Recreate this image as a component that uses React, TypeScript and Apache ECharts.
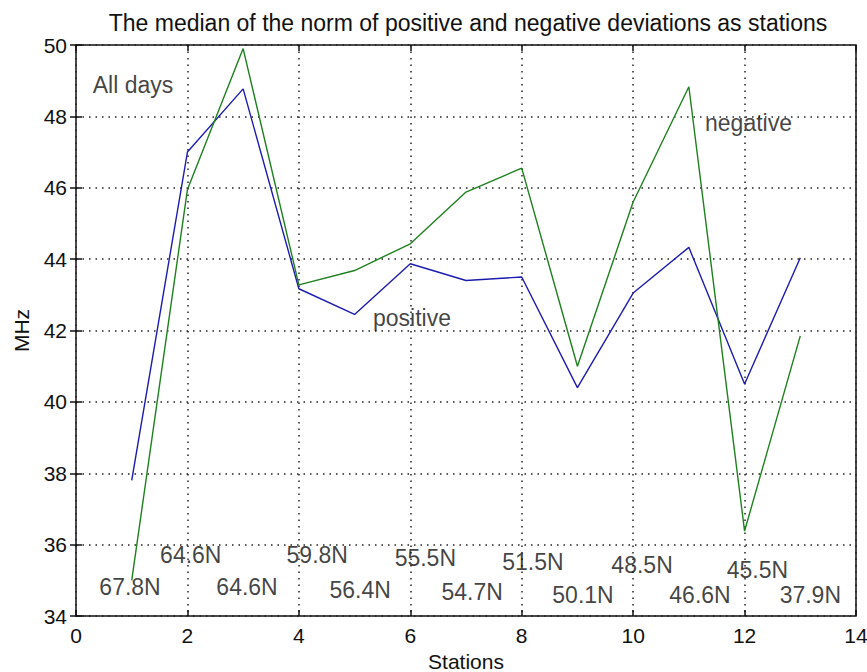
import React, { useEffect, useRef } from "react";
import * as echarts from "echarts";

const stations = [1, 2, 3, 4, 5, 6, 7, 8, 9, 10, 11, 12, 13];
const positive = [37.8, 47.0, 48.77, 43.17, 42.45, 43.87, 43.4, 43.5, 40.4, 43.05, 44.33, 40.5, 44.04];
const negative = [35.0, 45.95, 49.9, 43.28, 43.68, 44.43, 45.88, 46.55, 41.0, 45.6, 48.83, 36.38, 41.85];

const latLabels = ["67.8N", "64.6N", "64.6N", "59.8N", "56.4N", "55.5N", "54.7N", "51.5N", "50.1N", "48.5N", "46.6N", "45.5N", "37.9N"];
const latX = [0.97, 2.06, 3.07, 4.33, 5.1, 6.27, 7.11, 8.2, 9.1, 10.16, 11.2, 12.23, 13.18];
const latY = [34.82, 35.71, 34.82, 35.71, 34.73, 35.63, 34.68, 35.52, 34.59, 35.43, 34.59, 35.29, 34.59];

const noteText = ["All days", "negative", "positive"];
const noteX = [0.3, 11.29, 5.33];
const noteY = [48.88, 47.82, 42.35];

const FONT = "Liberation Sans, Arial, sans-serif";

export default function App() {
  const ref = useRef<HTMLDivElement>(null);
  useEffect(() => {
    const chart = echarts.init(ref.current!, null, { renderer: "svg" });
    const gridLine = { show: true, lineStyle: { color: "#222", type: [1.5, 5], width: 1.5 } };
    const axisCommon = {
      axisLine: { show: false },
      axisTick: { show: true, inside: true, length: 6, lineStyle: { color: "#111", width: 1.5 } },
    };
    const labelStyle = { fontFamily: FONT, fontSize: 23, color: "#111", textBorderWidth: 0, textBorderColor: "transparent" };
    chart.setOption({
      animation: false,
      backgroundColor: "#fff",
      title: {
        text: "The median of the norm of positive and negative deviations as stations",
        left: 463,
        textAlign: "center",
        top: 6,
        textStyle: { fontFamily: FONT, fontSize: 23, fontWeight: "normal", color: "#111" },
      },
      grid: {
        left: 76, right: 11, top: 45, bottom: 56, show: true, borderColor: "#111", borderWidth: 1.5,
        backgroundColor: "#fff", containLabel: false, outerBoundsMode: "none",
      },
      xAxis: [
        {
          type: "value", min: 0, max: 14, interval: 2,
          name: "Stations", nameLocation: "middle", nameGap: 31,
          nameTextStyle: { fontFamily: FONT, fontSize: 21, lineHeight: 21, color: "#111" },
          axisLabel: { fontFamily: FONT, fontSize: 21, color: "#111", margin: 9 },
          splitLine: gridLine,
          ...axisCommon,
        },
        {
          type: "value", min: 0, max: 14, interval: 2, position: "top",
          axisLabel: { show: false }, splitLine: { show: false },
          ...axisCommon,
        },
      ],
      yAxis: [
        {
          type: "value", min: 34, max: 50, interval: 2,
          name: "MHz", nameLocation: "middle", nameGap: 44, nameRotate: 90,
          nameTextStyle: { fontFamily: FONT, fontSize: 21, color: "#111" },
          axisLabel: { fontFamily: FONT, fontSize: 21, color: "#111", margin: 9 },
          splitLine: gridLine,
          ...axisCommon,
        },
        {
          type: "value", min: 34, max: 50, interval: 2, position: "right",
          axisLabel: { show: false }, splitLine: { show: false },
          ...axisCommon,
        },
      ],
      series: [
        {
          type: "line", name: "positive", data: stations.map((s, i) => [s, positive[i]]),
          showSymbol: false, lineStyle: { color: "#1c1cb0", width: 1.4 }, itemStyle: { color: "#1c1cb0" },
        },
        {
          type: "line", name: "negative", data: stations.map((s, i) => [s, negative[i]]),
          showSymbol: false, lineStyle: { color: "#1e801e", width: 1.4 }, itemStyle: { color: "#1e801e" },
        },
        {
          type: "scatter", symbolSize: 0, silent: true,
          data: latLabels.map((t, i) => ({ value: [latX[i], latY[i]], name: t })),
          label: { show: true, position: "inside", formatter: "{b}", ...labelStyle },
        },
        {
          type: "scatter", symbolSize: 0, silent: true,
          data: noteText.map((t, i) => ({ value: [noteX[i], noteY[i]], name: t })),
          label: { show: true, position: "right", distance: 0, formatter: "{b}", ...labelStyle },
        },
      ],
    });
    return () => chart.dispose();
  }, []);
  return <div ref={ref} style={{ position: "fixed", left: 0, top: 0, width: 867, height: 672, background: "#fff" }} />;
}
